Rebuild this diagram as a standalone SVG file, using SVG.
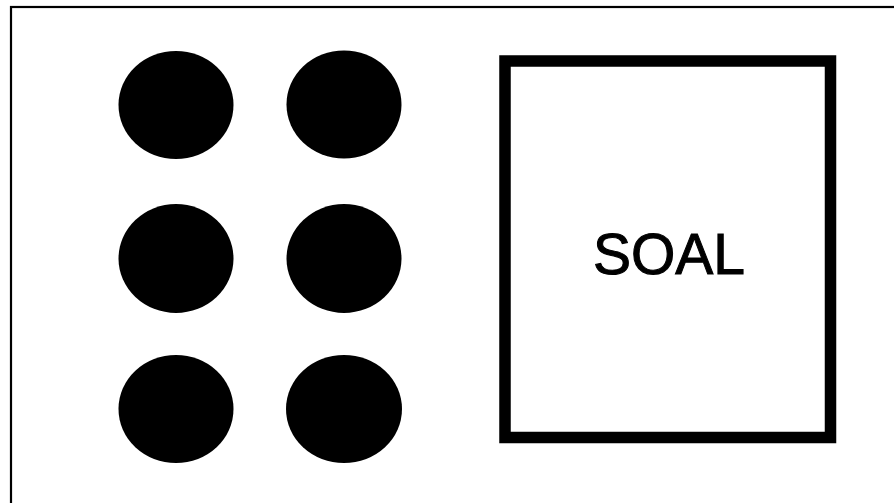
<svg xmlns="http://www.w3.org/2000/svg" width="894" height="503" viewBox="0 0 894 503">
  <style>
    .dot { fill: #000; }
    .frame { fill: none; stroke: #000; stroke-width: 2.2; }
    .box { fill: #fff; stroke: #000; stroke-width: 11.5; }
    .label { font-family: "Liberation Sans", Arial, sans-serif; font-size: 57px; fill: #000; stroke: #000; stroke-width: 1; }
  </style>
  <rect x="0" y="0" width="894" height="503" fill="#fff"/>
  <rect class="frame" x="11" y="7" width="900" height="510"/>
  <g id="dots">
    <ellipse id="dot1" class="dot" cx="176" cy="105" rx="57.5" ry="54"/>
    <ellipse id="dot2" class="dot" cx="344" cy="104.5" rx="57.5" ry="54"/>
    <ellipse id="dot3" class="dot" cx="176" cy="258.5" rx="57.5" ry="54.5"/>
    <ellipse id="dot4" class="dot" cx="344" cy="258.5" rx="57.5" ry="54.5"/>
    <ellipse id="dot5" class="dot" cx="176" cy="409" rx="57.5" ry="54"/>
    <ellipse id="dot6" class="dot" cx="344" cy="409" rx="58" ry="54"/>
  </g>
  <g id="soal">
    <rect class="box" x="505" y="61" width="325.5" height="376.5"/>
    <text class="label" x="669" y="274" text-anchor="middle">SOAL</text>
  </g>
</svg>
